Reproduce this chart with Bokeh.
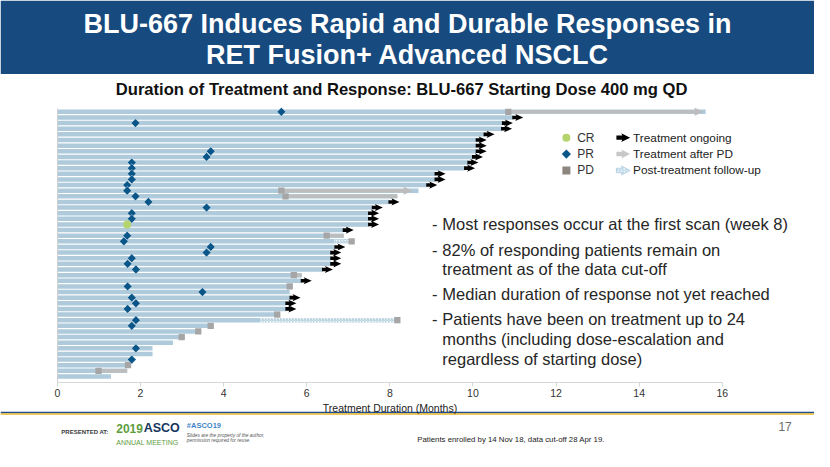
from bokeh.plotting import figure
from bokeh.models import Range1d, LinearAxis, FixedTicker
from bokeh.core.properties import value
from bokeh.embed import file_html
from bokeh.resources import INLINE

# ---------------- data ----------------
month_ticks = [0, 2, 4, 6, 8, 10, 12, 14, 16]

# total time on study bar (months), one entry per patient, top to bottom
duration = [15.60, 10.97, 10.72, 10.70, 10.28, 10.09, 10.09, 10.09, 10.00, 9.89,
            9.81, 9.10, 9.10, 8.90, 8.69, 8.18, 7.99, 7.59, 7.50, 7.50,
            7.50, 6.89, 6.89, 6.67, 6.69, 6.59, 6.59, 6.59, 6.39, 5.88,
            5.88, 5.66, 5.59, 5.61, 5.51, 5.51, 5.30, 4.88, 3.72, 3.42,
            3.07, 2.78, 2.29, 2.29, 1.84, 1.76, 1.68, 1.29]

pr_rows = [0, 2, 7, 8, 9, 10, 11, 12, 13, 14, 15, 16, 17, 18, 19, 22, 23, 24,
           25, 26, 27, 28, 31, 32, 33, 34, 35, 37, 38, 42, 44]
pr_time = [5.39, 1.88, 3.69, 3.59, 1.79, 1.79, 1.79, 1.79, 1.68, 1.68, 1.88, 2.19,
           3.59, 1.79, 1.79, 1.68, 1.60, 3.69, 3.59, 1.79, 1.69, 1.89, 1.69, 3.49,
           1.79, 1.89, 1.69, 1.89, 1.79, 1.89, 1.79]

cr_rows = [20]
cr_time = [1.68]

pd_rows = [0, 14, 15, 22, 23, 29, 31, 36, 37, 38, 39, 40, 45, 46]
pd_time = [10.85, 5.39, 5.49, 6.48, 7.08, 5.69, 5.59, 5.29, 8.18, 3.69, 3.39, 2.99, 1.70, 0.99]

# treatment after PD (grey)
after_rows = [0, 14, 15, 22, 29, 46]
after_start = [10.85, 5.39, 5.49, 6.48, 5.69, 0.99]
after_end = [15.55, 8.55, 8.18, 6.89, 5.88, 1.68]
after_arrow = [True, True, False, False, False, False]

# post-treatment follow-up (hatched)
follow_rows = [23, 37]
follow_start = [6.67, 4.88]
follow_end = [7.08, 8.18]

# treatment ongoing (black arrow)
ongoing_rows = [1, 2, 3, 4, 5, 6, 7, 8, 9, 10, 11, 12, 13, 16, 17, 18, 19, 20,
                21, 24, 25, 26, 27, 28, 30, 33, 34, 35]

legend_left = ["CR", "PR", "PD"]
legend_right = ["Treatment ongoing", "Treatment after PD", "Post-treatment follow-up"]

title_lines = ["BLU-667 Induces Rapid and Durable Responses in",
               "RET Fusion+ Advanced NSCLC"]
subtitle = "Duration of Treatment and Response: BLU-667 Starting Dose 400 mg QD"
bullets = [
    ["Most responses occur at the first scan (week 8)"],
    ["82% of responding patients remain on", "treatment as of the data cut-off"],
    ["Median duration of response not yet reached"],
    ["Patients have been on treatment up to 24", "months (including dose-escalation and",
     "regardless of starting dose)"],
]

# ---------------- layout ----------------
W, H = 814, 451
SW, SH = 830, 467                 # slide coordinate system
SX, SY = W / SW, H / SH
X0_PX = 58.0 * SX                 # canvas x of month 0
PX_PER_MONTH = 42.375 * SX
ROW0_PX = 115.3 * SY              # canvas y (from top) of first patient row
PX_PER_ROW = 5.83 * SY
n_rows = len(duration)
rows = list(range(n_rows))

SANS = "Liberation Sans, Arial"

p = figure(width=W, height=H,
           x_range=Range1d(-X0_PX / PX_PER_MONTH, (W - X0_PX) / PX_PER_MONTH),
           y_range=Range1d((H - ROW0_PX) / PX_PER_ROW, -ROW0_PX / PX_PER_ROW),
           x_axis_type=None, y_axis_type=None,
           output_backend="svg", toolbar_location=None,
           min_border=0, min_border_left=0, min_border_right=0,
           min_border_top=0, min_border_bottom=0,
           outline_line_color=None, background_fill_color="white",
           border_fill_color="white")
# slide coordinates for decoration
p.extra_x_ranges = {"px": Range1d(0, SW)}
p.extra_y_ranges = {"px": Range1d(SH, 0)}
PX = dict(x_range_name="px", y_range_name="px")


def dx(px):
    return px / PX_PER_MONTH


def dy(px):
    return px / PX_PER_ROW


# ---------------- slide header ----------------
p.quad(left=[0], right=[SW], top=[0], bottom=[76], fill_color="#174a7e",
       line_color=None, **PX)
p.text(x=[415, 415], y=[24, 56], text=title_lines, text_align="center",
       text_baseline="middle", text_color="white", text_font=value(SANS),
       text_font_style="bold", text_font_size="27px", **PX)
p.text(x=[409], y=[92], text=[subtitle], text_align="center",
       text_baseline="middle", text_color="#111111", text_font=value(SANS),
       text_font_style="bold", text_font_size="16.6px", **PX)

# ---------------- swimmer bars ----------------
p.hbar(y=rows, left=0, right=duration, height=0.8, fill_color="#aecadb",
       line_color=None)

p.hbar(y=follow_rows, left=follow_start, right=follow_end, height=0.8,
       fill_color="#f1f6f9", line_color=None,
       hatch_pattern="right_diagonal_line", hatch_color="#a9c7d9",
       hatch_scale=3, hatch_weight=1)

bar_end = [e - dx(7) if a else e for e, a in zip(after_end, after_arrow)]
p.hbar(y=after_rows, left=after_start, right=bar_end, height=0.62,
       fill_color="#bdbdbd", line_color=None)
head_xs, head_ys = [], []
for r, e, a in zip(after_rows, after_end, after_arrow):
    if a:
        head_xs.append([e - dx(9), e, e - dx(9)])
        head_ys.append([r - dy(4), r, r + dy(4)])
p.patches(xs=head_xs, ys=head_ys, fill_color="#bdbdbd", line_color=None)

ARROW = [(0, -1.8), (4, -1.8), (3, -3.6), (11, 0), (3, 3.6), (4, 1.8), (0, 1.8)]
arr_xs, arr_ys = [], []
for r in ongoing_rows:
    d = duration[r]
    arr_xs.append([d + dx(ax - 1) for ax, _ in ARROW])
    arr_ys.append([r + dy(ay) for _, ay in ARROW])
p.patches(xs=arr_xs, ys=arr_ys, fill_color="black", line_color=None)

p.scatter(x=pd_time, y=pd_rows, marker="square", size=6.3,
          fill_color="#a6a6a6", line_color=None)
p.scatter(x=pr_time, y=pr_rows, marker="square", angle=0.785398, size=6.2,
          fill_color="#0b5689", line_color="white", line_width=0.4)
p.scatter(x=cr_time, y=cr_rows, marker="circle", size=8,
          fill_color="#b5d46e", line_color=None)

# ---------------- axes ----------------
xaxis = LinearAxis(fixed_location=n_rows, ticker=FixedTicker(ticks=month_ticks),
                   bounds=(month_ticks[0], month_ticks[-1]))
xaxis.axis_line_color = "#d6d6d6"
xaxis.major_tick_line_color = "#d6d6d6"
xaxis.minor_tick_line_color = None
xaxis.major_tick_out = 4
xaxis.major_tick_in = 0
xaxis.major_label_standoff = 3
xaxis.major_label_text_font = SANS
xaxis.major_label_text_font_size = "10.5px"
xaxis.major_label_text_color = "#333333"
xaxis.axis_label = "Treatment Duration (Months)"
xaxis.axis_label_text_font = SANS
xaxis.axis_label_text_font_size = "10.5px"
xaxis.axis_label_text_font_style = "normal"
xaxis.axis_label_text_color = "#222222"
xaxis.axis_label_standoff = 1
p.add_layout(xaxis, "below")

yaxis = LinearAxis(fixed_location=0, ticker=FixedTicker(ticks=[]),
                   bounds=(-0.6, n_rows))
yaxis.axis_line_color = "#d0d0d0"
yaxis.major_tick_line_color = None
yaxis.minor_tick_line_color = None
yaxis.major_label_text_font_size = "0px"
p.add_layout(yaxis, "left")

# ---------------- legend ----------------
leg_y = [142, 159, 176]
p.scatter(x=[577], y=[leg_y[0]], marker="circle", size=8, fill_color="#b5d46e",
          line_color=None, **PX)
p.scatter(x=[577], y=[leg_y[1]], marker="square", angle=0.785398, size=6.5,
          fill_color="#0b5689", line_color=None, **PX)
p.scatter(x=[577], y=[leg_y[2]], marker="square", size=8, fill_color="#8d867f",
          line_color=None, **PX)
p.text(x=[588] * 3, y=leg_y, text=legend_left, text_baseline="middle",
       text_font=value(SANS), text_font_size="12px", text_color="#333333", **PX)

LEG_ARROW = [(0, -2.3), (6, -2.3), (5, -4.6), (14, 0), (5, 4.6), (6, 2.3), (0, 2.3)]
lx, ly = [], []
for yy in leg_y:
    lx.append([628 + ax for ax, _ in LEG_ARROW])
    ly.append([yy + ay for _, ay in LEG_ARROW])
p.patches(xs=lx[:1], ys=ly[:1], fill_color="black", line_color=None, **PX)
p.patches(xs=lx[1:2], ys=ly[1:2], fill_color="#c8c8c8", line_color=None, **PX)
p.patches(xs=lx[2:], ys=ly[2:], fill_color="#eef5f9", line_color="#a9cbe0",
          line_width=0.8, hatch_pattern="right_diagonal_line",
          hatch_color="#a9cbe0", hatch_scale=3, hatch_weight=0.8, **PX)
p.text(x=[645] * 3, y=leg_y, text=legend_right, text_baseline="middle",
       text_font=value(SANS), text_font_size="11.8px", text_color="#222222", **PX)

# ---------------- bullets ----------------
bullet_y = [[231.7], [258.3, 278.5], [304.2], [330.2, 351.0, 371.7]]
dash_x, dash_y, txt_x, txt_y, txt = [], [], [], [], []
for lines, ys in zip(bullets, bullet_y):
    dash_x.append(440)
    dash_y.append(ys[0])
    for line, yy in zip(lines, ys):
        txt_x.append(450.5)
        txt_y.append(yy)
        txt.append(line)
p.text(x=dash_x, y=dash_y, text=["-"] * len(dash_x), text_baseline="middle",
       text_font=value(SANS), text_font_size="16.5px", text_color="#262626", **PX)
p.text(x=txt_x, y=txt_y, text=txt, text_baseline="middle",
       text_font=value(SANS), text_font_size="16.5px", text_color="#262626", **PX)

# ---------------- footer ----------------
p.quad(left=[0], right=[SW], top=[425.8], bottom=[427.3], fill_color="#1f4e8c",
       line_color=None, **PX)
p.quad(left=[0], right=[SW], top=[427.3], bottom=[429.0], fill_color="#e8b62c",
       line_color=None, **PX)
p.text(x=[62], y=[447], text=["PRESENTED AT:"], text_baseline="middle",
       text_font=value(SANS), text_font_style="bold", text_font_size="6px",
       text_color="#3a3a3a", **PX)
p.text(x=[118], y=[443], text=["2019"], text_baseline="middle",
       text_font=value(SANS), text_font_style="bold", text_font_size="12px",
       text_color="#5e9e3f", **PX)
p.text(x=[146], y=[442.5], text=["ASCO"], text_baseline="middle",
       text_font=value(SANS), text_font_style="bold", text_font_size="12.5px",
       text_color="#17375e", **PX)
p.text(x=[118], y=[457.5], text=["ANNUAL MEETING"], text_baseline="middle",
       text_font=value(SANS), text_font_size="7px", text_color="#5e9e3f", **PX)
p.text(x=[190], y=[440.5], text=["#ASCO19"], text_baseline="middle",
       text_font=value(SANS), text_font_style="bold", text_font_size="7.5px",
       text_color="#3f86c6", **PX)
p.text(x=[190, 190], y=[450.5, 456], text=["Slides are the property of the author,",
                                         "permission required for reuse."],
       text_baseline="middle", text_font=value(SANS), text_font_style="italic",
       text_font_size="4.8px", text_color="#555555", **PX)
p.text(x=[800], y=[441], text=["17"], text_align="center", text_baseline="middle",
       text_font=value(SANS), text_font_size="12px", text_color="#6b6b6b", **PX)
p.text(x=[425], y=[455], text=["Patients enrolled by 14 Nov 18, data cut-off 28 Apr 19."],
       text_baseline="middle", text_font=value(SANS), text_font_size="7.8px",
       text_color="#222222", **PX)

open("out.html", "w").write(file_html(p, INLINE))
